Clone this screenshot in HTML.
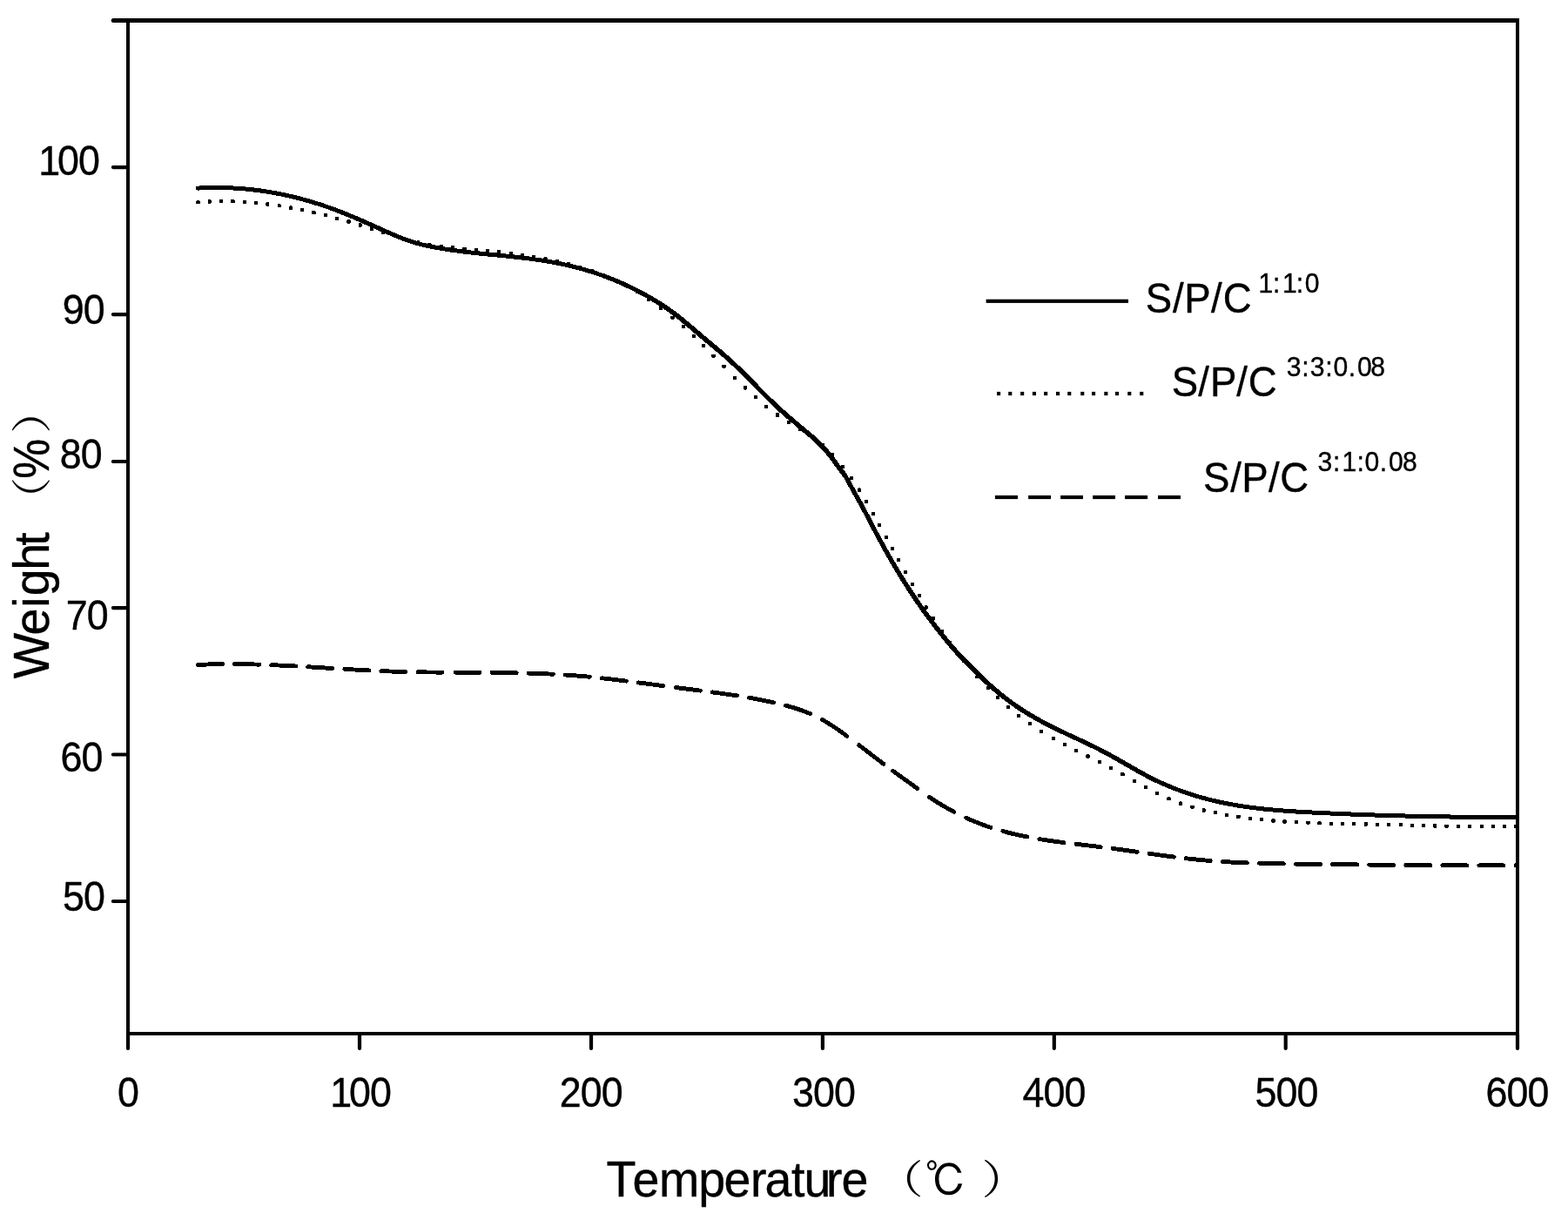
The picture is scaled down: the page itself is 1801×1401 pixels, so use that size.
<!DOCTYPE html>
<html lang="en"><head><meta charset="utf-8"><title>TG curves</title>
<style>html,body{margin:0;padding:0;background:#fff}svg{display:block}</style></head><body>
<svg width="1801" height="1401" viewBox="0 0 1801 1401">
<rect width="1801" height="1401" fill="#fff"/>
<g fill="#000" stroke="none">
<rect x="145" y="21" width="4" height="1168"/>
<rect x="1741" y="21" width="4" height="1168"/>
<rect x="145" y="21" width="1600" height="5"/>
<rect x="145" y="1185" width="1600" height="4"/>
</g>
<path d="M129.9 23.5H146M129.9 192.1H146M129.9 361.1H146M129.9 530H146M129.9 698.1H146M129.9 866.5H146M129.9 1035H146" fill="none" stroke="#000" stroke-width="4.2" stroke-linecap="round"/>
<path d="M147 1188V1203.9M413 1188V1203.9M679 1188V1203.9M944.9 1188V1203.9M1210.8 1188V1203.9M1476.7 1188V1203.9M1743 1188V1203.9" fill="none" stroke="#000" stroke-width="4.2" stroke-linecap="round"/>
<path d="M130.3 23.5H146" fill="none" stroke="#000" stroke-width="5" stroke-linecap="round"/>
<g font-family="'Liberation Sans', sans-serif" fill="#000" stroke="#000" stroke-width="0.4" stroke-linejoin="round">
<text transform="matrix(0.949 0 0 1 0 201.45)" x="46.72 69.6 94.89" y="0" font-size="47.2">100</text>
<text transform="matrix(0.949 0 0 1 0 372.35)" x="75.55 100.84" y="0" font-size="47.2">90</text>
<text transform="matrix(0.949 0 0 1 0 538.35)" x="72.45 97.74" y="0" font-size="47.2">80</text>
<text transform="matrix(0.949 0 0 1 0 723.35)" x="79.77 105.06" y="0" font-size="47.2">70</text>
<text transform="matrix(0.949 0 0 1 0 886.25)" x="73.26 98.55" y="0" font-size="47.2">60</text>
<text transform="matrix(0.949 0 0 1 0 1046.45)" x="75.88 101.17" y="0" font-size="47.2">50</text>
<text transform="matrix(0.949 0 0 1 0 1271.35)" x="142.36" y="0" font-size="47.2">0</text>
<text transform="matrix(0.949 0 0 1 0 1271.35)" x="399.57 422.5 447.89" y="0" font-size="47.2">100</text>
<text transform="matrix(0.949 0 0 1 0 1271.35)" x="677.39 702.68 727.97" y="0" font-size="47.2">200</text>
<text transform="matrix(0.949 0 0 1 0 1271.35)" x="958.79 984.08 1009.37" y="0" font-size="47.2">300</text>
<text transform="matrix(0.949 0 0 1 0 1271.35)" x="1237.59 1262.88 1288.17" y="0" font-size="47.2">400</text>
<text transform="matrix(0.949 0 0 1 0 1271.35)" x="1518.87 1544.16 1569.45" y="0" font-size="47.2">500</text>
<text transform="matrix(0.949 0 0 1 0 1271.35)" x="1798.34 1823.63 1848.92" y="0" font-size="47.2">600</text>
<text transform="matrix(0.975 0 0 1 0 1374.2)" x="714.41 745.07 776.52 822.89 852.86 884.21 901.07 932.37 947.17 973.45 991.42" y="0" font-size="57">Temperature</text>
<text transform="translate(56 0) rotate(-90) scale(0.975 1)" x="-799.22 -748.27 -715.61 -701.88 -671.54 -642.71" y="0" font-size="57">Weight</text>
<text transform="translate(56 0) rotate(-90) scale(0.90307 1)" x="-608.85" y="0" font-size="57">%</text>
</g>
<g font-family="'Liberation Serif', 'Noto Serif CJK SC', serif" font-weight="400" fill="#000">
<text transform="matrix(0.53217 0 0 0.45348 1007.21 1371.03)" font-size="100">（</text>
<text transform="matrix(0.53565 0 0 0.46203 1127.45 1370.96)" font-size="100">）</text>
<text transform="matrix(0 -0.5113 0.46203 0 53.06 599.03)" font-size="100">（</text>
<text transform="matrix(0 -0.53217 0.46203 0 53.06 497.83)" font-size="100">）</text>
</g>
<g font-family="'Liberation Sans', IPAGothic, 'Noto Sans CJK JP', sans-serif" fill="#000">
<text transform="matrix(0.47881 0 0 0.50157 1062.49 1374.4)" font-size="100">℃</text>
</g>
<g fill="#000" stroke="none">
<rect x="1132.6" y="343.7" width="163.4" height="4.2"/>
<rect x="1145" y="449.9" width="4.1" height="4.2"/>
<rect x="1158.2" y="449.9" width="4.1" height="4.2"/>
<rect x="1172.1" y="449.9" width="4.1" height="4.2"/>
<rect x="1185.9" y="449.9" width="4.1" height="4.2"/>
<rect x="1199.1" y="449.9" width="4.1" height="4.2"/>
<rect x="1213" y="449.9" width="4.1" height="4.2"/>
<rect x="1226.2" y="449.9" width="4.1" height="4.2"/>
<rect x="1241.2" y="449.9" width="4.1" height="4.2"/>
<rect x="1254" y="449.9" width="4.1" height="4.2"/>
<rect x="1268.3" y="449.9" width="4.1" height="4.2"/>
<rect x="1281" y="449.9" width="4.1" height="4.2"/>
<rect x="1295.2" y="449.9" width="4.1" height="4.2"/>
<rect x="1309.2" y="449.9" width="4.1" height="4.2"/>
<rect x="1142.9" y="568.9" width="26.1" height="4.2"/>
<rect x="1181.1" y="568.9" width="25.9" height="4.2"/>
<rect x="1218.1" y="568.9" width="25.9" height="4.2"/>
<rect x="1255.1" y="568.9" width="25.9" height="4.2"/>
<rect x="1292.1" y="568.9" width="26" height="4.2"/>
<rect x="1330" y="568.9" width="26" height="4.2"/>
</g>
<g font-family="'Liberation Sans', sans-serif" fill="#000" stroke="#000" stroke-width="0.4" stroke-linejoin="round">
<text transform="matrix(0.94 0 0 1 0 358.6)" x="1399.82 1432.98 1446.98 1479.68 1494.35" y="0" font-size="48.5">S/P/C</text>
<text transform="matrix(0.94 0 0 1 0 454.6)" x="1431.73 1464.15 1478.68 1510.85 1525.41" y="0" font-size="48.5">S/P/C</text>
<text transform="matrix(0.94 0 0 1 0 564.6)" x="1470.14 1503.4 1517.3 1550 1564.13" y="0" font-size="48.5">S/P/C</text>
<text transform="matrix(0.947 0 0 1 0 336)" x="1526.41 1543.88 1555.34 1572.18 1582.6" y="0" font-size="31.8">1:1:0</text>
<text transform="matrix(0.947 0 0 1 0 431.5)" x="1560.35 1578.83 1589.07 1607.55 1617.13 1635.43 1646.17 1662.4" y="0" font-size="31.8">3:3:0.08</text>
<text transform="matrix(0.947 0 0 1 0 540.5)" x="1598.26 1616.63 1627.78 1645.67 1655.25 1673.55 1684.29 1701.05" y="0" font-size="31.8">3:1:0.08</text>
</g>
<clipPath id="plot"><rect x="149" y="26" width="1594" height="1159"/></clipPath>
<g clip-path="url(#plot)" shape-rendering="crispEdges">
<path d="M225.05 214.18L228.95 214.18L231.95 214.01L234.95 213.87L237.95 213.76L240.95 213.67L243.95 213.6L246.95 213.56L249.95 213.54L252.95 213.55L255.95 213.58L258.95 213.64L261.95 213.72L264.95 213.83L267.95 213.96L270.95 214.11L273.95 214.29L276.95 214.5L279.95 214.72L282.95 214.98L285.95 215.26L288.95 215.56L291.95 215.89L294.95 216.24L297.95 216.61L300.95 217.01L303.95 217.44L306.95 217.89L309.95 218.36L312.95 218.86L315.95 219.39L318.95 219.94L321.95 220.51L324.95 221.11L327.95 221.73L330.95 222.37L333.95 223.05L336.95 223.74L339.95 224.46L342.95 225.21L345.95 225.98L348.95 226.77L351.95 227.59L354.95 228.43L357.95 229.3L360.95 230.2L363.95 231.11L366.95 232.05L369.95 233.02L372.95 234.01L375.95 235.03L378.95 236.07L381.95 237.13L384.95 238.22L387.95 239.34L390.95 240.48L393.95 241.64L396.95 242.83L399.95 244.04L402.95 245.27L405.95 246.53L408.95 247.8L411.95 249.08L414.95 250.38L417.95 251.69L420.95 253.02L423.95 254.35L426.95 255.68L429.95 257.02L432.95 258.36L435.95 259.7L438.95 261.04L441.95 262.38L444.95 263.71L447.95 265.03L450.95 266.34L453.95 267.63L456.95 268.9L459.95 270.14L462.95 271.34L465.95 272.5L468.95 273.61L471.95 274.67L474.95 275.67L477.95 276.61L480.95 277.48L483.95 278.28L486.95 279.02L489.95 279.72L492.95 280.37L495.95 280.99L498.95 281.59L501.95 282.16L504.95 282.7L507.95 283.23L510.95 283.73L513.95 284.21L516.95 284.67L519.95 285.12L522.95 285.55L525.95 285.96L528.95 286.35L531.95 286.74L534.95 287.1L537.95 287.46L540.95 287.81L543.95 288.14L546.95 288.47L549.95 288.79L552.95 289.1L555.95 289.41L558.95 289.71L561.95 290.01L564.95 290.3L567.95 290.6L570.95 290.89L573.95 291.18L576.95 291.48L579.95 291.77L582.95 292.07L585.95 292.38L588.95 292.69L591.95 293L594.95 293.33L597.95 293.66L600.95 294L603.95 294.35L606.95 294.72L609.95 295.1L612.95 295.49L615.95 295.89L618.95 296.31L621.95 296.75L624.95 297.2L627.95 297.68L630.95 298.17L633.95 298.69L636.95 299.23L639.95 299.79L642.95 300.37L645.95 300.98L648.95 301.61L651.95 302.27L654.95 302.96L657.95 303.67L660.95 304.41L663.95 305.17L666.95 305.97L669.95 306.79L672.95 307.64L675.95 308.52L678.95 309.43L681.95 310.37L684.95 311.34L687.95 312.34L690.95 313.37L693.95 314.44L696.95 315.53L699.95 316.66L702.95 317.82L705.95 319.01L708.95 320.24L711.95 321.5L714.95 322.8L717.95 324.13L720.95 325.5L723.95 326.9L726.95 328.34L729.95 329.81L732.95 331.33L735.95 332.88L738.95 334.46L741.95 336.09L744.95 337.75L747.95 339.46L750.95 341.21L753.95 343.01L756.95 344.85L759.95 346.74L762.95 348.69L765.95 350.69L768.95 352.75L771.95 354.87L774.95 357.05L777.95 359.29L780.95 361.6L783.95 363.97L786.95 366.41L789.95 368.9L792.95 371.43L795.95 373.98L798.95 376.55L801.95 379.13L804.95 381.7L807.95 384.25L810.95 386.77L813.95 389.28L816.95 391.78L819.95 394.29L822.95 396.79L825.95 399.32L828.95 401.86L831.95 404.44L834.95 407.05L837.95 409.71L840.95 412.43L843.95 415.2L846.95 418.03L849.95 420.91L852.95 423.84L855.95 426.81L858.95 429.8L861.95 432.82L864.95 435.86L867.95 438.9L870.95 441.95L873.95 444.99L876.95 448.02L879.95 451.04L882.95 454.02L885.95 456.97L888.95 459.89L891.95 462.75L894.95 465.56L897.95 468.31L900.95 471.01L903.95 473.65L906.95 476.26L909.95 478.83L912.95 481.37L915.95 483.89L918.95 486.4L921.95 488.9L924.95 491.4L927.95 493.91L930.95 496.43L933.95 498.98L936.95 501.6L939.95 504.31L942.95 507.16L945.95 510.17L948.95 513.38L951.95 516.82L954.95 520.51L957.95 524.42L960.95 528.56L963.95 532.9L966.95 536.98L969.95 540.68L972.95 544.79L975.95 550L978.95 555.77L981.95 561.25L984.95 566.52L987.95 571.79L990.95 577.21L993.95 582.78L996.95 588.46L999.95 594.19L1002.95 599.94L1005.95 605.66L1008.95 611.32L1011.95 616.91L1014.95 622.43L1017.95 627.87L1020.95 633.23L1023.95 638.51L1026.95 643.7L1029.95 648.8L1032.95 653.81L1035.95 658.73L1038.95 663.57L1041.95 668.32L1044.95 672.99L1047.95 677.57L1050.95 682.08L1053.95 686.51L1056.95 690.87L1059.95 695.16L1062.95 699.37L1065.95 703.51L1068.95 707.59L1071.95 711.6L1074.95 715.55L1077.95 719.43L1080.95 723.26L1083.95 727.02L1086.95 730.73L1089.95 734.39L1092.95 737.98L1095.95 741.49L1098.95 744.91L1101.95 748.23L1104.95 751.42L1107.95 754.5L1110.95 757.55L1113.95 760.59L1116.95 763.63L1119.95 766.66L1122.95 769.66L1125.95 772.62L1128.95 775.55L1131.95 778.43L1134.95 781.24L1137.95 784L1140.95 786.68L1143.95 789.29L1146.95 791.84L1149.95 794.33L1152.95 796.75L1155.95 799.1L1158.95 801.4L1161.95 803.64L1164.95 805.82L1167.95 807.94L1170.95 810.01L1173.95 812.02L1176.95 813.98L1179.95 815.89L1182.95 817.75L1185.95 819.56L1188.95 821.32L1191.95 823.04L1194.95 824.72L1197.95 826.36L1200.95 827.96L1203.95 829.53L1206.95 831.07L1209.95 832.58L1212.95 834.07L1215.95 835.54L1218.95 836.99L1221.95 838.42L1224.95 839.84L1227.95 841.25L1230.95 842.65L1233.95 844.04L1236.95 845.44L1239.95 846.83L1242.95 848.23L1245.95 849.64L1248.95 851.05L1251.95 852.48L1254.95 853.92L1257.95 855.38L1260.95 856.86L1263.95 858.37L1266.95 859.9L1269.95 861.46L1272.95 863.05L1275.95 864.67L1278.95 866.32L1281.95 868L1284.95 869.7L1287.95 871.4L1290.95 873.12L1293.95 874.85L1296.95 876.58L1299.95 878.3L1302.95 880.02L1305.95 881.72L1308.95 883.41L1311.95 885.07L1314.95 886.72L1317.95 888.33L1320.95 889.9L1323.95 891.44L1326.95 892.94L1329.95 894.4L1332.95 895.81L1335.95 897.19L1338.95 898.54L1341.95 899.84L1344.95 901.11L1347.95 902.34L1350.95 903.53L1353.95 904.69L1356.95 905.81L1359.95 906.9L1362.95 907.96L1365.95 908.98L1368.95 909.98L1371.95 910.94L1374.95 911.86L1377.95 912.76L1380.95 913.63L1383.95 914.47L1386.95 915.27L1389.95 916.05L1392.95 916.81L1395.95 917.53L1398.95 918.23L1401.95 918.91L1404.95 919.56L1407.95 920.18L1410.95 920.78L1413.95 921.36L1416.95 921.91L1419.95 922.44L1422.95 922.95L1425.95 923.44L1428.95 923.91L1431.95 924.36L1434.95 924.79L1437.95 925.2L1440.95 925.6L1443.95 925.97L1446.95 926.33L1449.95 926.68L1452.95 927L1455.95 927.32L1458.95 927.62L1461.95 927.9L1464.95 928.18L1467.95 928.44L1470.95 928.68L1473.95 928.92L1476.95 929.15L1479.95 929.37L1482.95 929.57L1485.95 929.77L1488.95 929.96L1491.95 930.15L1494.95 930.32L1497.95 930.49L1500.95 930.66L1503.95 930.82L1506.95 930.97L1509.95 931.13L1512.95 931.27L1515.95 931.42L1518.95 931.56L1521.95 931.7L1524.95 931.84L1527.95 931.98L1530.95 932.11L1533.95 932.25L1536.95 932.38L1539.95 932.51L1542.95 932.63L1545.95 932.76L1548.95 932.88L1551.95 933L1554.95 933.12L1557.95 933.23L1560.95 933.35L1563.95 933.46L1566.95 933.57L1569.95 933.67L1572.95 933.78L1575.95 933.88L1578.95 933.98L1581.95 934.08L1584.95 934.18L1587.95 934.28L1590.95 934.37L1593.95 934.46L1596.95 934.55L1599.95 934.64L1602.95 934.72L1605.95 934.8L1608.95 934.88L1611.95 934.96L1614.95 935.04L1617.95 935.11L1620.95 935.19L1623.95 935.26L1626.95 935.33L1629.95 935.39L1632.95 935.46L1635.95 935.52L1638.95 935.58L1641.95 935.64L1644.95 935.7L1647.95 935.75L1650.95 935.8L1653.95 935.85L1656.95 935.9L1659.95 935.95L1662.95 935.99L1665.95 936.04L1668.95 936.08L1671.95 936.12L1674.95 936.15L1677.95 936.19L1680.95 936.22L1683.95 936.25L1686.95 936.28L1689.95 936.31L1692.95 936.34L1695.95 936.36L1698.95 936.38L1701.95 936.4L1704.95 936.42L1707.95 936.43L1710.95 936.45L1713.95 936.46L1716.95 936.47L1719.95 936.48L1722.95 936.49L1725.95 936.49L1728.95 936.49L1731.95 936.49L1734.95 936.49L1737.95 936.49L1740.95 936.48L1743.95 936.48L1743.95 940.38L1740.05 940.38L1737.05 940.38L1734.05 940.39L1731.05 940.39L1728.05 940.39L1725.05 940.39L1722.05 940.39L1719.05 940.39L1716.05 940.38L1713.05 940.37L1710.05 940.36L1707.05 940.35L1704.05 940.33L1701.05 940.32L1698.05 940.3L1695.05 940.28L1692.05 940.26L1689.05 940.24L1686.05 940.21L1683.05 940.18L1680.05 940.15L1677.05 940.12L1674.05 940.09L1671.05 940.05L1668.05 940.02L1665.05 939.98L1662.05 939.94L1659.05 939.89L1656.05 939.85L1653.05 939.8L1650.05 939.75L1647.05 939.7L1644.05 939.65L1641.05 939.6L1638.05 939.54L1635.05 939.48L1632.05 939.42L1629.05 939.36L1626.05 939.29L1623.05 939.23L1620.05 939.16L1617.05 939.09L1614.05 939.01L1611.05 938.94L1608.05 938.86L1605.05 938.78L1602.05 938.7L1599.05 938.62L1596.05 938.54L1593.05 938.45L1590.05 938.36L1587.05 938.27L1584.05 938.18L1581.05 938.08L1578.05 937.98L1575.05 937.88L1572.05 937.78L1569.05 937.68L1566.05 937.57L1563.05 937.47L1560.05 937.36L1557.05 937.25L1554.05 937.13L1551.05 937.02L1548.05 936.9L1545.05 936.78L1542.05 936.66L1539.05 936.53L1536.05 936.41L1533.05 936.28L1530.05 936.15L1527.05 936.01L1524.05 935.88L1521.05 935.74L1518.05 935.6L1515.05 935.46L1512.05 935.32L1509.05 935.17L1506.05 935.03L1503.05 934.87L1500.05 934.72L1497.05 934.56L1494.05 934.39L1491.05 934.22L1488.05 934.05L1485.05 933.86L1482.05 933.67L1479.05 933.47L1476.05 933.27L1473.05 933.05L1470.05 932.82L1467.05 932.58L1464.05 932.34L1461.05 932.08L1458.05 931.8L1455.05 931.52L1452.05 931.22L1449.05 930.9L1446.05 930.58L1443.05 930.23L1440.05 929.87L1437.05 929.5L1434.05 929.1L1431.05 928.69L1428.05 928.26L1425.05 927.81L1422.05 927.34L1419.05 926.85L1416.05 926.34L1413.05 925.81L1410.05 925.26L1407.05 924.68L1404.05 924.08L1401.05 923.46L1398.05 922.81L1395.05 922.13L1392.05 921.43L1389.05 920.71L1386.05 919.95L1383.05 919.17L1380.05 918.37L1377.05 917.53L1374.05 916.66L1371.05 915.76L1368.05 914.84L1365.05 913.88L1362.05 912.88L1359.05 911.86L1356.05 910.8L1353.05 909.71L1350.05 908.59L1347.05 907.43L1344.05 906.24L1341.05 905.01L1338.05 903.74L1335.05 902.44L1332.05 901.09L1329.05 899.71L1326.05 898.3L1323.05 896.84L1320.05 895.34L1317.05 893.8L1314.05 892.23L1311.05 890.62L1308.05 888.97L1305.05 887.31L1302.05 885.62L1299.05 883.92L1296.05 882.2L1293.05 880.48L1290.05 878.75L1287.05 877.02L1284.05 875.3L1281.05 873.6L1278.05 871.9L1275.05 870.22L1272.05 868.57L1269.05 866.95L1266.05 865.36L1263.05 863.8L1260.05 862.27L1257.05 860.76L1254.05 859.28L1251.05 857.82L1248.05 856.38L1245.05 854.95L1242.05 853.54L1239.05 852.13L1236.05 850.73L1233.05 849.34L1230.05 847.94L1227.05 846.55L1224.05 845.15L1221.05 843.74L1218.05 842.32L1215.05 840.89L1212.05 839.44L1209.05 837.97L1206.05 836.48L1203.05 834.97L1200.05 833.43L1197.05 831.86L1194.05 830.26L1191.05 828.62L1188.05 826.94L1185.05 825.22L1182.05 823.46L1179.05 821.65L1176.05 819.79L1173.05 817.88L1170.05 815.92L1167.05 813.91L1164.05 811.84L1161.05 809.72L1158.05 807.54L1155.05 805.3L1152.05 803L1149.05 800.65L1146.05 798.23L1143.05 795.74L1140.05 793.19L1137.05 790.58L1134.05 787.9L1131.05 785.14L1128.05 782.33L1125.05 779.45L1122.05 776.52L1119.05 773.56L1116.05 770.56L1113.05 767.53L1110.05 764.49L1107.05 761.45L1104.05 758.4L1101.05 755.32L1098.05 752.13L1095.05 748.81L1092.05 745.39L1089.05 741.88L1086.05 738.29L1083.05 734.63L1080.05 730.92L1077.05 727.16L1074.05 723.33L1071.05 719.45L1068.05 715.5L1065.05 711.49L1062.05 707.41L1059.05 703.27L1056.05 699.06L1053.05 694.77L1050.05 690.41L1047.05 685.98L1044.05 681.47L1041.05 676.89L1038.05 672.22L1035.05 667.47L1032.05 662.63L1029.05 657.71L1026.05 652.7L1023.05 647.6L1020.05 642.41L1017.05 637.13L1014.05 631.77L1011.05 626.33L1008.05 620.81L1005.05 615.22L1002.05 609.56L999.05 603.84L996.05 598.09L993.05 592.36L990.05 586.68L987.05 581.11L984.05 575.69L981.05 570.42L978.05 565.15L975.05 559.67L972.05 553.9L969.05 548.69L966.05 544.58L963.05 540.88L960.05 536.8L957.05 532.46L954.05 528.32L951.05 524.41L948.05 520.72L945.05 517.28L942.05 514.07L939.05 511.06L936.05 508.21L933.05 505.5L930.05 502.88L927.05 500.33L924.05 497.81L921.05 495.3L918.05 492.8L915.05 490.3L912.05 487.79L909.05 485.27L906.05 482.73L903.05 480.16L900.05 477.55L897.05 474.91L894.05 472.21L891.05 469.46L888.05 466.65L885.05 463.79L882.05 460.87L879.05 457.92L876.05 454.94L873.05 451.92L870.05 448.89L867.05 445.85L864.05 442.8L861.05 439.76L858.05 436.72L855.05 433.7L852.05 430.71L849.05 427.74L846.05 424.81L843.05 421.93L840.05 419.1L837.05 416.33L834.05 413.61L831.05 410.95L828.05 408.34L825.05 405.76L822.05 403.22L819.05 400.69L816.05 398.19L813.05 395.68L810.05 393.18L807.05 390.67L804.05 388.15L801.05 385.6L798.05 383.03L795.05 380.45L792.05 377.88L789.05 375.33L786.05 372.8L783.05 370.31L780.05 367.87L777.05 365.5L774.05 363.19L771.05 360.95L768.05 358.77L765.05 356.65L762.05 354.59L759.05 352.59L756.05 350.64L753.05 348.75L750.05 346.91L747.05 345.11L744.05 343.36L741.05 341.65L738.05 339.99L735.05 338.36L732.05 336.78L729.05 335.23L726.05 333.71L723.05 332.24L720.05 330.8L717.05 329.4L714.05 328.03L711.05 326.7L708.05 325.4L705.05 324.14L702.05 322.91L699.05 321.72L696.05 320.56L693.05 319.43L690.05 318.34L687.05 317.27L684.05 316.24L681.05 315.24L678.05 314.27L675.05 313.33L672.05 312.42L669.05 311.54L666.05 310.69L663.05 309.87L660.05 309.07L657.05 308.31L654.05 307.57L651.05 306.86L648.05 306.17L645.05 305.51L642.05 304.88L639.05 304.27L636.05 303.69L633.05 303.13L630.05 302.59L627.05 302.07L624.05 301.58L621.05 301.1L618.05 300.65L615.05 300.21L612.05 299.79L609.05 299.39L606.05 299L603.05 298.62L600.05 298.25L597.05 297.9L594.05 297.56L591.05 297.23L588.05 296.9L585.05 296.59L582.05 296.28L579.05 295.97L576.05 295.67L573.05 295.38L570.05 295.08L567.05 294.79L564.05 294.5L561.05 294.2L558.05 293.91L555.05 293.61L552.05 293.31L549.05 293L546.05 292.69L543.05 292.37L540.05 292.04L537.05 291.71L534.05 291.36L531.05 291L528.05 290.64L525.05 290.25L522.05 289.86L519.05 289.45L516.05 289.02L513.05 288.57L510.05 288.11L507.05 287.63L504.05 287.13L501.05 286.6L498.05 286.06L495.05 285.49L492.05 284.89L489.05 284.27L486.05 283.62L483.05 282.92L480.05 282.18L477.05 281.38L474.05 280.51L471.05 279.57L468.05 278.57L465.05 277.51L462.05 276.4L459.05 275.24L456.05 274.04L453.05 272.8L450.05 271.53L447.05 270.24L444.05 268.93L441.05 267.61L438.05 266.28L435.05 264.94L432.05 263.6L429.05 262.26L426.05 260.92L423.05 259.58L420.05 258.25L417.05 256.92L414.05 255.59L411.05 254.28L408.05 252.98L405.05 251.7L402.05 250.43L399.05 249.17L396.05 247.94L393.05 246.73L390.05 245.54L387.05 244.38L384.05 243.24L381.05 242.12L378.05 241.03L375.05 239.97L372.05 238.93L369.05 237.91L366.05 236.92L363.05 235.95L360.05 235.01L357.05 234.1L354.05 233.2L351.05 232.33L348.05 231.49L345.05 230.67L342.05 229.88L339.05 229.11L336.05 228.36L333.05 227.64L330.05 226.95L327.05 226.27L324.05 225.63L321.05 225.01L318.05 224.41L315.05 223.84L312.05 223.29L309.05 222.76L306.05 222.26L303.05 221.79L300.05 221.34L297.05 220.91L294.05 220.51L291.05 220.14L288.05 219.79L285.05 219.46L282.05 219.16L279.05 218.88L276.05 218.62L273.05 218.4L270.05 218.19L267.05 218.01L264.05 217.86L261.05 217.73L258.05 217.62L255.05 217.54L252.05 217.48L249.05 217.45L246.05 217.44L243.05 217.46L240.05 217.5L237.05 217.57L234.05 217.66L231.05 217.77L228.05 217.91L225.05 218.08Z" fill="#000" stroke="none"/>
<path d="M227 216.13L230 215.96L233 215.82L236 215.71L239 215.62L242 215.55L245 215.51L248 215.49L251 215.5L254 215.53L257 215.59L260 215.67L263 215.78L266 215.91L269 216.06L272 216.24L275 216.45L278 216.67L281 216.93L284 217.21L287 217.51L290 217.84L293 218.19L296 218.56L299 218.96L302 219.39L305 219.84L308 220.31L311 220.81L314 221.34L317 221.89L320 222.46L323 223.06L326 223.68L329 224.32L332 225L335 225.69L338 226.41L341 227.16L344 227.93L347 228.72L350 229.54L353 230.38L356 231.25L359 232.15L362 233.06L365 234L368 234.97L371 235.96L374 236.98L377 238.02L380 239.08L383 240.17L386 241.29L389 242.43L392 243.59L395 244.78L398 245.99L401 247.22L404 248.48L407 249.75L410 251.03L413 252.33L416 253.64L419 254.97L422 256.3L425 257.63L428 258.97L431 260.31L434 261.65L437 262.99L440 264.33L443 265.66L446 266.98L449 268.29L452 269.58L455 270.85L458 272.09L461 273.29L464 274.45L467 275.56L470 276.62L473 277.62L476 278.56L479 279.43L482 280.23L485 280.97L488 281.67L491 282.32L494 282.94L497 283.54L500 284.11L503 284.65L506 285.18L509 285.68L512 286.16L515 286.62L518 287.07L521 287.5L524 287.91L527 288.3L530 288.69L533 289.05L536 289.41L539 289.76L542 290.09L545 290.42L548 290.74L551 291.05L554 291.36L557 291.66L560 291.96L563 292.25L566 292.55L569 292.84L572 293.13L575 293.43L578 293.72L581 294.02L584 294.33L587 294.64L590 294.95L593 295.28L596 295.61L599 295.95L602 296.3L605 296.67L608 297.05L611 297.44L614 297.84L617 298.26L620 298.7L623 299.15L626 299.63L629 300.12L632 300.64L635 301.18L638 301.74L641 302.32L644 302.93L647 303.56L650 304.22L653 304.91L656 305.62L659 306.36L662 307.12L665 307.92L668 308.74L671 309.59L674 310.47L677 311.38L680 312.32L683 313.29L686 314.29L689 315.32L692 316.39L695 317.48L698 318.61L701 319.77L704 320.96L707 322.19L710 323.45L713 324.75L716 326.08L719 327.45L722 328.85L725 330.29L728 331.76L731 333.28L734 334.83L737 336.41L740 338.04L743 339.7L746 341.41L749 343.16L752 344.96L755 346.8L758 348.69L761 350.64L764 352.64L767 354.7L770 356.82L773 359L776 361.24L779 363.55L782 365.92L785 368.36L788 370.85L791 373.38L794 375.93L797 378.5L800 381.08L803 383.65L806 386.2L809 388.72L812 391.23L815 393.73L818 396.24L821 398.74L824 401.27L827 403.81L830 406.39L833 409L836 411.66L839 414.38L842 417.15L845 419.98L848 422.86L851 425.79L854 428.76L857 431.75L860 434.77L863 437.81L866 440.85L869 443.9L872 446.94L875 449.97L878 452.99L881 455.97L884 458.92L887 461.84L890 464.7L893 467.51L896 470.26L899 472.96L902 475.6L905 478.21L908 480.78L911 483.32L914 485.84L917 488.35L920 490.85L923 493.35L926 495.86L929 498.38L932 500.93L935 503.55L938 506.26L941 509.11L944 512.12L947 515.33L950 518.77L953 522.46L956 526.37L959 530.51L962 534.85L965 538.93L968 542.63L971 546.74L974 551.95L977 557.72L980 563.2L983 568.47L986 573.74L989 579.16L992 584.73L995 590.41L998 596.14L1001 601.89L1004 607.61L1007 613.27L1010 618.86L1013 624.38L1016 629.82L1019 635.18L1022 640.46L1025 645.65L1028 650.75L1031 655.76L1034 660.68L1037 665.52L1040 670.27L1043 674.94L1046 679.52L1049 684.03L1052 688.46L1055 692.82L1058 697.11L1061 701.32L1064 705.46L1067 709.54L1070 713.55L1073 717.5L1076 721.38L1079 725.21L1082 728.97L1085 732.68L1088 736.34L1091 739.93L1094 743.44L1097 746.86L1100 750.18L1103 753.37L1106 756.45L1109 759.5L1112 762.54L1115 765.58L1118 768.61L1121 771.61L1124 774.57L1127 777.5L1130 780.38L1133 783.19L1136 785.95L1139 788.63L1142 791.24L1145 793.79L1148 796.28L1151 798.7L1154 801.05L1157 803.35L1160 805.59L1163 807.77L1166 809.89L1169 811.96L1172 813.97L1175 815.93L1178 817.84L1181 819.7L1184 821.51L1187 823.27L1190 824.99L1193 826.67L1196 828.31L1199 829.91L1202 831.48L1205 833.02L1208 834.53L1211 836.02L1214 837.49L1217 838.94L1220 840.37L1223 841.79L1226 843.2L1229 844.6L1232 845.99L1235 847.39L1238 848.78L1241 850.18L1244 851.59L1247 853L1250 854.43L1253 855.87L1256 857.33L1259 858.81L1262 860.32L1265 861.85L1268 863.41L1271 865L1274 866.62L1277 868.27L1280 869.95L1283 871.65L1286 873.35L1289 875.07L1292 876.8L1295 878.53L1298 880.25L1301 881.97L1304 883.67L1307 885.36L1310 887.02L1313 888.67L1316 890.28L1319 891.85L1322 893.39L1325 894.89L1328 896.35L1331 897.76L1334 899.14L1337 900.49L1340 901.79L1343 903.06L1346 904.29L1349 905.48L1352 906.64L1355 907.76L1358 908.85L1361 909.91L1364 910.93L1367 911.93L1370 912.89L1373 913.81L1376 914.71L1379 915.58L1382 916.42L1385 917.22L1388 918L1391 918.76L1394 919.48L1397 920.18L1400 920.86L1403 921.51L1406 922.13L1409 922.73L1412 923.31L1415 923.86L1418 924.39L1421 924.9L1424 925.39L1427 925.86L1430 926.31L1433 926.74L1436 927.15L1439 927.55L1442 927.92L1445 928.28L1448 928.63L1451 928.95L1454 929.27L1457 929.57L1460 929.85L1463 930.13L1466 930.39L1469 930.63L1472 930.87L1475 931.1L1478 931.32L1481 931.52L1484 931.72L1487 931.91L1490 932.1L1493 932.27L1496 932.44L1499 932.61L1502 932.77L1505 932.92L1508 933.08L1511 933.22L1514 933.37L1517 933.51L1520 933.65L1523 933.79L1526 933.93L1529 934.06L1532 934.2L1535 934.33L1538 934.46L1541 934.58L1544 934.71L1547 934.83L1550 934.95L1553 935.07L1556 935.18L1559 935.3L1562 935.41L1565 935.52L1568 935.62L1571 935.73L1574 935.83L1577 935.93L1580 936.03L1583 936.13L1586 936.23L1589 936.32L1592 936.41L1595 936.5L1598 936.59L1601 936.67L1604 936.75L1607 936.83L1610 936.91L1613 936.99L1616 937.06L1619 937.14L1622 937.21L1625 937.28L1628 937.34L1631 937.41L1634 937.47L1637 937.53L1640 937.59L1643 937.65L1646 937.7L1649 937.75L1652 937.8L1655 937.85L1658 937.9L1661 937.94L1664 937.99L1667 938.03L1670 938.07L1673 938.1L1676 938.14L1679 938.17L1682 938.2L1685 938.23L1688 938.26L1691 938.29L1694 938.31L1697 938.33L1700 938.35L1703 938.37L1706 938.38L1709 938.4L1712 938.41L1715 938.42L1718 938.43L1721 938.44L1724 938.44L1727 938.44L1730 938.44L1733 938.44L1736 938.44L1739 938.43L1742 938.43" fill="none" stroke="#000" stroke-width="5" stroke-linejoin="round" stroke-linecap="butt"/>
<path d="M226.25 231.08h2.5v2.5h-2.5zM239.55 230.26h2.5v2.5h-2.5zM252.85 229.95h2.5v2.5h-2.5zM266.15 230.11h2.5v2.5h-2.5zM279.45 230.73h2.5v2.5h-2.5zM292.75 231.79h2.5v2.5h-2.5zM306.05 233.25h2.5v2.5h-2.5zM319.35 235.11h2.5v2.5h-2.5zM332.65 237.34h2.5v2.5h-2.5zM345.95 239.91h2.5v2.5h-2.5zM359.25 242.81h2.5v2.5h-2.5zM372.55 246h2.5v2.5h-2.5zM385.85 249.48h2.5v2.5h-2.5zM399.15 253.22h2.5v2.5h-2.5zM412.45 257.19h2.5v2.5h-2.5zM425.75 261.38h2.5v2.5h-2.5zM439.05 265.71h2.5v2.5h-2.5zM452.35 269.98h2.5v2.5h-2.5zM465.65 273.91h2.5v2.5h-2.5zM478.95 277.25h2.5v2.5h-2.5zM492.25 279.83h2.5v2.5h-2.5zM505.55 281.75h2.5v2.5h-2.5zM518.85 283.21h2.5v2.5h-2.5zM532.15 284.4h2.5v2.5h-2.5zM545.45 285.52h2.5v2.5h-2.5zM558.75 286.72h2.5v2.5h-2.5zM572.05 288.07h2.5v2.5h-2.5zM585.35 289.63h2.5v2.5h-2.5zM598.65 291.43h2.5v2.5h-2.5zM611.95 293.52h2.5v2.5h-2.5zM625.25 295.95h2.5v2.5h-2.5zM638.55 298.76h2.5v2.5h-2.5zM651.85 301.99h2.5v2.5h-2.5zM665.15 305.69h2.5v2.5h-2.5zM678.45 309.93h2.5v2.5h-2.5zM691.75 314.81h2.5v2.5h-2.5zM705.05 320.46h2.5v2.5h-2.5zM718.35 327.01h2.5v2.5h-2.5zM730.45 333.87h2.5v2.5h-2.5zM743.75 342.48h2.5v2.5h-2.5zM757.95 352.83h2.5v2.5h-2.5zM771.25 363.51h2.5v2.5h-2.5zM783.45 374.06h2.5v2.5h-2.5zM795.45 385.06h2.5v2.5h-2.5zM806.75 395.93h2.5v2.5h-2.5zM818.25 407.39h2.5v2.5h-2.5zM830.25 419.57h2.5v2.5h-2.5zM843.05 432.5h2.5v2.5h-2.5zM854.95 444.17h2.5v2.5h-2.5zM866.55 454.97h2.5v2.5h-2.5zM878.75 465.43h2.5v2.5h-2.5zM891.75 475.26h2.5v2.5h-2.5zM904.55 483.51h2.5v2.5h-2.5zM917.55 491.29h2.5v2.5h-2.5zM930.65 499.66h2.5v2.5h-2.5zM943.75 509.71h2.5v2.5h-2.5zM955.05 520.5h2.5v2.5h-2.5zM967.05 534.39h2.5v2.5h-2.5zM977.05 547.98h2.5v2.5h-2.5zM985.75 561.3h2.5v2.5h-2.5zM993.95 574.91h2.5v2.5h-2.5zM1001.75 588.55h2.5v2.5h-2.5zM1009.05 601.73h2.5v2.5h-2.5zM1016.75 615.86h2.5v2.5h-2.5zM1023.75 628.73h2.5v2.5h-2.5zM1030.75 641.47h2.5v2.5h-2.5zM1038.75 655.79h2.5v2.5h-2.5zM1046.55 669.44h2.5v2.5h-2.5zM1054.45 682.9h2.5v2.5h-2.5zM1062.55 696.23h2.5v2.5h-2.5zM1070.75 709.18h2.5v2.5h-2.5zM1080.45 723.72h2.5v2.5h-2.5zM1089.55 736.6h2.5v2.5h-2.5zM1105.4 757.3h2.5v2.5h-2.5zM1121.25 775.93h2.5v2.5h-2.5zM1133.45 788.91h2.5v2.5h-2.5zM1144.95 800.13h2.5v2.5h-2.5zM1156.55 810.47h2.5v2.5h-2.5zM1169.05 820.58h2.5v2.5h-2.5zM1181.75 829.82h2.5v2.5h-2.5zM1194.75 838.35h2.5v2.5h-2.5zM1208.55 846.58h2.5v2.5h-2.5zM1221.75 853.83h2.5v2.5h-2.5zM1234.95 860.66h2.5v2.5h-2.5zM1248.25 867.3h2.5v2.5h-2.5zM1261.55 873.89h2.5v2.5h-2.5zM1274.75 880.59h2.5v2.5h-2.5zM1288.25 887.83h2.5v2.5h-2.5zM1301.55 895.42h2.5v2.5h-2.5zM1314.75 902.97h2.5v2.5h-2.5zM1327.75 909.9h2.5v2.5h-2.5zM1341.25 916.11h2.5v2.5h-2.5zM1354.75 921.31h2.5v2.5h-2.5zM1368.25 925.65h2.5v2.5h-2.5zM1381.45 929.18h2.5v2.5h-2.5zM1394.75 932.13h2.5v2.5h-2.5zM1407.55 934.52h2.5v2.5h-2.5zM1421.25 936.7h2.5v2.5h-2.5zM1434.55 938.48h2.5v2.5h-2.5zM1447.75 939.95h2.5v2.5h-2.5zM1461.25 941.18h2.5v2.5h-2.5zM1474.25 942.15h2.5v2.5h-2.5zM1487.55 942.93h2.5v2.5h-2.5zM1501.25 943.57h2.5v2.5h-2.5zM1514.25 944.03h2.5v2.5h-2.5zM1527.55 944.4h2.5v2.5h-2.5zM1540.75 944.69h2.5v2.5h-2.5zM1554.05 944.95h2.5v2.5h-2.5zM1567.55 945.19h2.5v2.5h-2.5zM1580.75 945.46h2.5v2.5h-2.5zM1594.05 945.76h2.5v2.5h-2.5zM1607.75 946.12h2.5v2.5h-2.5zM1620.75 946.47h2.5v2.5h-2.5zM1633.75 946.82h2.5v2.5h-2.5zM1647.05 947.15h2.5v2.5h-2.5zM1660.25 947.45h2.5v2.5h-2.5zM1673.75 947.7h2.5v2.5h-2.5zM1686.95 947.87h2.5v2.5h-2.5zM1700.65 947.95h2.5v2.5h-2.5zM1713.65 947.92h2.5v2.5h-2.5zM1726.85 947.76h2.5v2.5h-2.5zM1739.65 947.47h2.5v2.5h-2.5z" fill="#000" stroke="#000" stroke-width="1.7" stroke-linejoin="round"/>
<path d="M227.45 763.43L230.96 763.27L234.47 763.13L237.99 763.01L241.5 762.9L245.01 762.81L248.53 762.73L252.04 762.67L255.55 762.63M269.53 762.6L273.04 762.62L276.55 762.66L280.07 762.71L283.58 762.77L287.09 762.84L290.61 762.93L294.12 763.02L297.63 763.12M311.61 763.63L315.12 763.78L318.63 763.93L322.15 764.09L325.66 764.26L329.17 764.44L332.68 764.62L336.2 764.8L339.71 764.99M353.69 765.79L357.2 766L360.72 766.21L364.23 766.43L367.74 766.64L371.25 766.86L374.76 767.07L378.28 767.29L381.79 767.51M395.77 768.36L399.28 768.57L402.79 768.77L406.31 768.97L409.82 769.17L413.33 769.37L416.85 769.56L420.36 769.75L423.87 769.93M437.85 770.58L441.36 770.73L444.88 770.87L448.39 771L451.9 771.12L455.41 771.24L458.92 771.34L462.44 771.44L465.95 771.53M479.93 771.81L483.44 771.86L486.96 771.91L490.47 771.95L493.98 771.99L497.49 772.03L501 772.06L504.52 772.08L508.03 772.11M523.01 772.18L526.52 772.19L530.03 772.21L533.55 772.22L537.06 772.23L540.57 772.24L544.08 772.25L547.6 772.27L551.11 772.29M565.09 772.37L568.6 772.4L572.12 772.44L575.63 772.48L579.14 772.52L582.65 772.57L586.16 772.62L589.68 772.69L593.19 772.75M607.17 773.09L610.68 773.2L614.2 773.31L617.71 773.43L621.22 773.57L624.73 773.71L628.25 773.86L631.76 774.03L635.27 774.2M649.25 775.02L652.76 775.25L656.27 775.5L659.79 775.77L663.3 776.05L666.81 776.34L670.32 776.65L673.84 776.97L677.35 777.3M691.33 778.75L694.84 779.14L698.36 779.54L701.87 779.94L705.38 780.36L708.89 780.78L712.4 781.21L715.92 781.65L719.43 782.09M733.41 783.9L736.92 784.36L740.44 784.82L743.95 785.29L747.46 785.75L750.97 786.22L754.49 786.69L758 787.15L761.51 787.62M776.29 789.54L779.8 789.99L783.31 790.43L786.83 790.88L790.34 791.32L793.85 791.76L797.36 792.2L800.88 792.64L804.39 793.09M818.37 794.9L821.88 795.37L825.39 795.85L828.91 796.34L832.42 796.83L835.93 797.34L839.44 797.86L842.96 798.39L846.47 798.93M860.45 801.25L863.96 801.87L867.47 802.51L870.99 803.17L874.5 803.85L878.01 804.56L881.52 805.28L885.04 806.03L888.55 806.81M902.53 810.18L906.04 811.13L909.55 812.13L913.07 813.2L916.58 814.33L920.09 815.54L923.6 816.83L927.12 818.2L930.63 819.67M944.61 826.56L948.12 828.58L951.63 830.7L955.15 832.93L958.66 835.24L962.17 837.63L965.68 840.09L969.2 842.61L972.71 845.18M986.69 855.72L990.2 858.41L993.71 861.1L997.23 863.8L1000.74 866.49L1004.25 869.17L1007.76 871.85L1011.28 874.52L1014.79 877.18M1025.57 885.21L1029.08 887.78L1032.59 890.34L1036.11 892.88L1039.62 895.41L1043.13 897.93L1046.64 900.45L1050.16 902.98L1053.67 905.51M1067.65 915.47L1071.16 917.83L1074.67 920.1L1078.19 922.31L1081.7 924.44L1085.21 926.5L1088.72 928.5L1092.24 930.43L1095.75 932.31M1109.73 939.2L1113.24 940.77L1116.75 942.29L1120.27 943.75L1123.78 945.15L1127.29 946.5L1130.8 947.79L1134.32 949.03L1137.83 950.22M1151.81 954.48L1155.32 955.43L1158.84 956.35L1162.35 957.23L1165.86 958.07L1169.37 958.87L1172.88 959.64L1176.4 960.37L1179.91 961.07M1193.89 963.59L1197.4 964.16L1200.91 964.7L1204.43 965.23L1207.94 965.74L1211.45 966.23L1214.96 966.7L1218.48 967.16L1221.99 967.61M1235.97 969.31L1239.48 969.72L1242.99 970.13L1246.51 970.54L1250.02 970.95L1253.53 971.36L1257.05 971.77L1260.56 972.19L1264.07 972.62M1278.05 974.41L1281.56 974.88L1285.07 975.36L1288.59 975.84L1292.1 976.33L1295.61 976.82L1299.12 977.31L1302.64 977.81L1306.15 978.3M1320.13 980.28L1323.64 980.77L1327.15 981.26L1330.67 981.74L1334.18 982.22L1337.69 982.69L1341.2 983.16L1344.72 983.62L1348.23 984.07M1362.21 985.75L1365.72 986.15L1369.23 986.53L1372.75 986.89L1376.26 987.25L1379.77 987.58L1383.28 987.9L1386.8 988.2L1390.31 988.49M1404.29 989.48L1407.8 989.69L1411.32 989.89L1414.83 990.08L1418.34 990.26L1421.85 990.43L1425.36 990.58L1428.88 990.73L1432.39 990.86M1446.37 991.31L1449.88 991.4L1453.39 991.49L1456.91 991.56L1460.42 991.64L1463.93 991.71L1467.44 991.77L1470.96 991.83L1474.47 991.88M1488.45 992.07L1491.96 992.11L1495.47 992.16L1498.99 992.2L1502.5 992.24L1506.01 992.28L1509.52 992.32L1513.04 992.37L1516.55 992.41M1530.53 992.58L1534.04 992.62L1537.55 992.66L1541.07 992.7L1544.58 992.75L1548.09 992.79L1551.61 992.83L1555.12 992.87L1558.63 992.91M1572.61 993.07L1576.12 993.11L1579.63 993.15L1583.15 993.19L1586.66 993.23L1590.17 993.26L1593.68 993.3L1597.2 993.34L1600.71 993.37M1614.69 993.5L1618.2 993.53L1621.71 993.56L1625.23 993.59L1628.74 993.62L1632.25 993.65L1635.76 993.68L1639.28 993.7L1642.79 993.72M1656.77 993.81L1660.28 993.83L1663.8 993.84L1667.31 993.86L1670.82 993.87L1674.33 993.88L1677.84 993.9L1681.36 993.91L1684.87 993.91M1698.85 993.93L1702.36 993.93L1705.88 993.93L1709.39 993.93L1712.9 993.92L1716.41 993.91L1719.92 993.9L1723.44 993.89L1726.95 993.88M1740.93 993.81L1743 993.8" fill="none" stroke="#000" stroke-width="4.9" stroke-linejoin="round" stroke-linecap="round"/>
</g>
</svg></body></html>
